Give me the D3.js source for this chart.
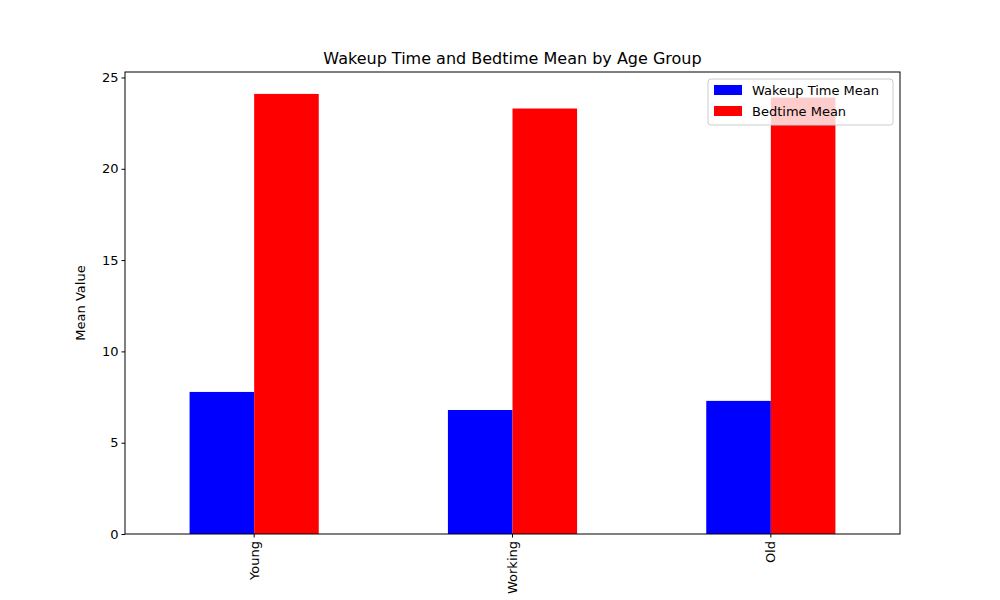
<!DOCTYPE html>
<html><head><meta charset="utf-8">
<script src="https://cdn.jsdelivr.net/npm/d3@7"></script>
<style>body{margin:0;background:#fff}text{font-family:"DejaVu Sans",sans-serif}</style>
</head><body><div id="chart"></div>
<script>
const groups = ["Young", "Working", "Old"];
const wakeupMean = [7.78, 6.79, 7.29];
const bedtimeMean = [24.1, 23.3, 23.9];
const seriesNames = ["Wakeup Time Mean", "Bedtime Mean"];
const seriesColors = ["#0000ff", "#ff0000"];
const yTicks = [0, 5, 10, 15, 20, 25];

const margins = { top: 72, right: 100, bottom: 66, left: 125 },
      w = 1000 - margins.left - margins.right,
      h = 600 - margins.top - margins.bottom;

const svg = d3.select("#chart").append("svg")
    .attr("width", 1000).attr("height", 600);
const chart = svg.append("g")
    .attr("transform", `translate(${margins.left},${margins.top})`);

const x0 = d3.scaleBand().domain(groups).range([0, w]).padding(0);
const x1 = d3.scaleBand().domain(seriesNames)
    .range([x0.bandwidth() * 0.25, x0.bandwidth() * 0.75]);
const y = d3.scaleLinear().domain([0, 25.3]).range([h, 0]);

const rows = groups.map((g, i) => ({ group: g, values: [wakeupMean[i], bedtimeMean[i]] }));

const gs = chart.selectAll(".grp").data(rows).enter().append("g")
    .attr("transform", d => `translate(${x0(d.group)},0)`);
gs.selectAll("rect")
    .data(d => d.values.map((v, j) => ({ name: seriesNames[j], v, c: seriesColors[j] })))
    .enter().append("rect")
    .attr("x", d => x1(d.name))
    .attr("y", d => y(d.v))
    .attr("width", x1.bandwidth())
    .attr("height", d => h - y(d.v))
    .attr("fill", d => d.c);

const xAxis = chart.append("g").attr("transform", `translate(0,${h})`)
    .call(d3.axisBottom(x0).tickSize(3.5).tickSizeOuter(0));
xAxis.selectAll("text")
    .attr("transform", "rotate(-90)")
    .attr("x", -7).attr("y", 0).attr("dy", "0.35em")
    .style("text-anchor", "end");

const yAxis = chart.append("g")
    .call(d3.axisLeft(y).tickValues(yTicks).tickSize(3.5).tickSizeOuter(0));

[xAxis, yAxis].forEach(a => {
  a.selectAll("text").attr("font-size", 13).attr("fill", "#000");
  a.select(".domain").remove();
});

chart.append("rect").attr("width", w).attr("height", h)
    .attr("fill", "none").attr("stroke", "#000").attr("stroke-width", 1);

chart.append("text")
    .attr("transform", "rotate(-90)")
    .attr("x", -h / 2).attr("y", -40)
    .attr("text-anchor", "middle").attr("font-size", 13)
    .text("Mean Value");

svg.append("text")
    .attr("x", margins.left + w / 2).attr("y", 64)
    .attr("text-anchor", "middle").attr("font-size", 16)
    .text("Wakeup Time and Bedtime Mean by Age Group");

const legend = svg.append("g").attr("transform", "translate(708,79)");
legend.append("rect").attr("width", 185).attr("height", 46).attr("rx", 3)
    .attr("fill", "#fff").attr("fill-opacity", 0.8)
    .attr("stroke", "#ccc");
seriesNames.forEach((n, i) => {
  legend.append("rect").attr("x", 6).attr("y", 6 + i * 21)
      .attr("width", 28).attr("height", 10).attr("fill", seriesColors[i]);
  legend.append("text").attr("x", 44).attr("y", 11 + i * 21)
      .attr("dy", "0.35em").attr("font-size", 13).text(n);
});
</script></body></html>
